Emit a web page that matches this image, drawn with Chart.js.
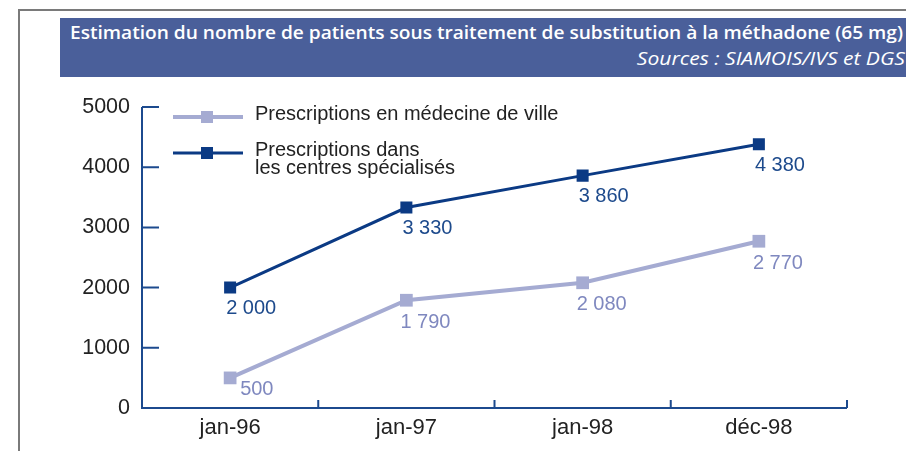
<!DOCTYPE html>
<html>
<head>
<meta charset="utf-8">
<script src="https://cdn.jsdelivr.net/npm/chart.js@4"></script>
<style>
  html, body { margin: 0; padding: 0; background: #fff; }
  body { width: 906px; height: 451px; position: relative; overflow: hidden; }
  .frame { position: absolute; left: 18px; top: 9px; width: 900px; height: 460px;
           border-top: 2px solid #7a7a7a; border-left: 2px solid #7a7a7a; }
  .band { position: absolute; left: 60px; top: 18px; width: 860px; height: 59px; background: #4a5f9a;
          color: #fff; font-family: "Open Sans", sans-serif; }
  .title { position: absolute; left: 10px; top: 2px; font-size: 17.5px; font-weight: 600; white-space: nowrap;
           transform-origin: left top; }
  .source { position: absolute; right: 15px; top: 28px; font-size: 17.5px; font-style: italic; font-weight: 500;
            white-space: nowrap; transform-origin: right top; }
  canvas { position: absolute; left: 0; top: 0; }
</style>
</head>
<body>
<div class="frame"></div>
<div class="band">
  <div class="title" id="title">Estimation du nombre de patients sous traitement de substitution à la méthadone (65 mg)</div>
  <div class="source" id="source">Sources : SIAMOIS/IVS et DGS</div>
</div>
<canvas id="chart" width="906" height="451"></canvas>
<script>
// data
const categories = ['jan-96', 'jan-97', 'jan-98', 'déc-98'];
const villeValues = [500, 1790, 2080, 2770];
const centresValues = [2000, 3330, 3860, 4380];
const yTicks = [0, 1000, 2000, 3000, 4000, 5000];

const AXIS = '#1c4a8e';
const DARK = '#0b3a84';
const LIGHT = '#a5abd2';

// squeeze the header texts so they span what the reference spans
function fitWidth(id, target) {
  const el = document.getElementById(id);
  const w = el.getBoundingClientRect().width;
  el.style.transform = 'scaleX(' + (target / w) + ')';
}
fitWidth('title', 833);
fitWidth('source', 268);

function fmt(v) {
  return String(v).replace(/\B(?=(\d{3})+(?!\d))/g, ' ');
}

const axesPlugin = {
  id: 'axesPlugin',
  afterDraw(chart) {
    const ctx = chart.ctx;
    const x = chart.scales.x, y = chart.scales.y;
    const a = chart.chartArea;
    ctx.save();
    ctx.strokeStyle = AXIS;
    ctx.lineWidth = 2;
    ctx.beginPath();
    ctx.moveTo(a.left, y.getPixelForValue(5000));
    ctx.lineTo(a.left, a.bottom);
    ctx.lineTo(a.right, a.bottom);
    yTicks.forEach(v => {
      const py = y.getPixelForValue(v);
      ctx.moveTo(a.left, py);
      ctx.lineTo(a.left + 17, py);
    });
    const n = categories.length;
    for (let i = 0; i < n; i++) {
      const bx = i < n - 1 ? (x.getPixelForValue(i) + x.getPixelForValue(i + 1)) / 2 : a.right;
      ctx.moveTo(bx, a.bottom);
      ctx.lineTo(bx, a.bottom - 8);
    }
    ctx.stroke();
    ctx.restore();
  }
};

const valueLabels = {
  id: 'valueLabels',
  afterDatasetsDraw(chart, args, opts) {
    const ctx = chart.ctx;
    ctx.save();
    ctx.font = '20px "Liberation Sans", Arial, sans-serif';
    ctx.textAlign = 'left';
    ctx.textBaseline = 'middle';
    chart.data.datasets.forEach((ds, di) => {
      const meta = chart.getDatasetMeta(di);
      const o = opts.offsets[di];
      ctx.fillStyle = opts.colors[di];
      meta.data.forEach((pt, i) => {
        const off = (o.special && o.special[i]) || o.all;
        ctx.fillText(fmt(ds.data[i]), pt.x + off[0], pt.y + off[1]);
      });
    });
    ctx.restore();
  }
};

const legendPlugin = {
  id: 'legendPlugin',
  afterDraw(chart) {
    const ctx = chart.ctx;
    const items = [
      { ds: chart.data.datasets[0], y: 117, lines: ['Prescriptions en médecine de ville'] },
      { ds: chart.data.datasets[1], y: 153, lines: ['Prescriptions dans', 'les centres spécialisés'] }
    ];
    ctx.save();
    ctx.font = '20px "Liberation Sans", Arial, sans-serif';
    ctx.textBaseline = 'middle';
    items.forEach(it => {
      ctx.strokeStyle = it.ds.borderColor;
      ctx.lineWidth = it.ds.borderWidth;
      ctx.beginPath();
      ctx.moveTo(173, it.y);
      ctx.lineTo(243, it.y);
      ctx.stroke();
      ctx.fillStyle = it.ds.pointBackgroundColor;
      ctx.fillRect(201, it.y - 6, 12, 12);
      ctx.fillStyle = '#222';
      it.lines.forEach((l, k) => ctx.fillText(l, 255, it.y - 3 + k * 18));
    });
    ctx.restore();
  }
};

new Chart(document.getElementById('chart'), {
  type: 'line',
  data: {
    labels: categories,
    datasets: [
      {
        label: 'Prescriptions en médecine de ville',
        data: villeValues,
        borderColor: LIGHT,
        backgroundColor: LIGHT,
        pointBackgroundColor: LIGHT,
        pointBorderWidth: 0,
        borderWidth: 4,
        pointStyle: 'rect',
        pointRadius: 9,
        tension: 0
      },
      {
        label: 'Prescriptions dans les centres spécialisés',
        data: centresValues,
        borderColor: DARK,
        backgroundColor: DARK,
        pointBackgroundColor: DARK,
        pointBorderWidth: 0,
        borderWidth: 3,
        pointStyle: 'rect',
        pointRadius: 8.5,
        tension: 0
      }
    ]
  },
  options: {
    responsive: false,
    animation: false,
    events: [],
    layout: { padding: { top: 107, right: 59, left: 0, bottom: 0 } },
    plugins: {
      legend: { display: false },
      tooltip: { enabled: false },
      valueLabels: {
        colors: ['#7f88bf', '#1d4a8c'],
        offsets: [
          { all: [-6, 22], special: { 0: [10, 12] } },
          { all: [-4, 21] }
        ]
      }
    },
    scales: {
      x: {
        offset: true,
        grid: { display: false, drawTicks: false },
        border: { display: false },
        afterFit(s) { s.height = 43; },
        ticks: {
          padding: 7,
          color: '#222',
          font: { family: '"Liberation Sans", Arial, sans-serif', size: 22 }
        }
      },
      y: {
        min: 0,
        max: 5000,
        afterFit(s) { s.width = 142; },
        afterBuildTicks(s) { s.ticks = yTicks.map(v => ({ value: v })); },
        grid: { display: false, drawTicks: false },
        border: { display: false },
        ticks: {
          padding: 12,
          color: '#222',
          callback: v => String(v),
          font: { family: '"Liberation Sans", Arial, sans-serif', size: 21.5 }
        }
      }
    }
  },
  plugins: [axesPlugin, valueLabels, legendPlugin]
});
</script>
</body>
</html>
